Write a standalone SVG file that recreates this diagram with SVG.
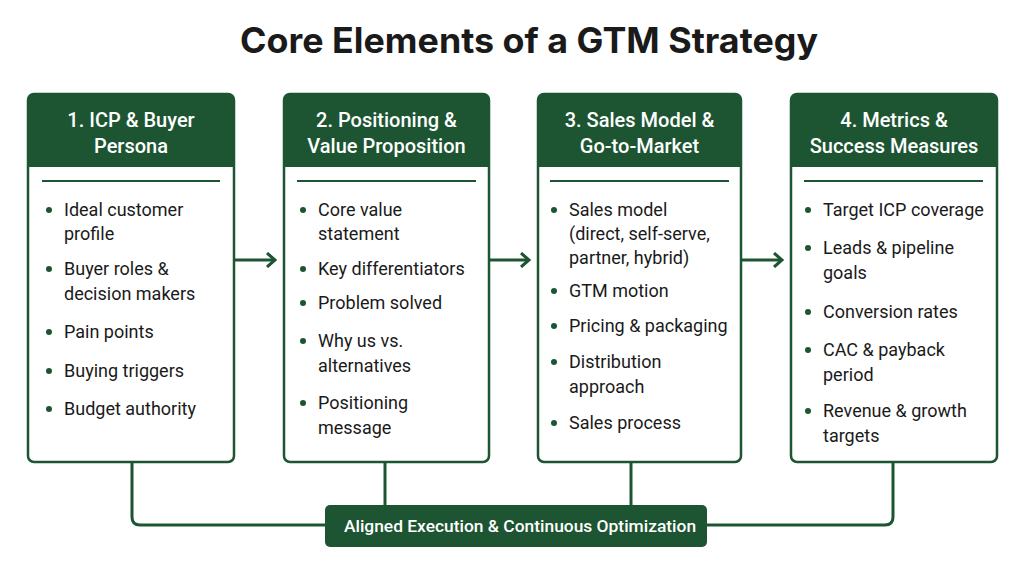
<svg xmlns="http://www.w3.org/2000/svg" width="1024" height="575" viewBox="0 0 1024 575">
<defs>
<style>
.title{font-family:Inter,"Liberation Sans",sans-serif;font-weight:700;font-size:35px;fill:#1a1a1a}
.box{fill:#fff;stroke:#1d5532;stroke-width:2.5}
.hdr{fill:#1d5532}
.ht{font-family:Roboto,"Liberation Sans",sans-serif;font-weight:500;font-size:20px;fill:#fff;text-anchor:middle}
.div{stroke:#1d5532;stroke-width:2}
.it{font-family:Roboto,"Liberation Sans",sans-serif;font-size:18px;fill:#1a1a1a}
.bul{fill:#1d5532}
.con{fill:none;stroke:#1d5532;stroke-width:3;stroke-linejoin:round}
.lbl{fill:#1d5532}
.lt{font-family:Roboto,"Liberation Sans",sans-serif;font-weight:500;font-size:17.4px;fill:#fff;text-anchor:middle}
</style>
<marker id="arr" viewBox="0 0 12 16" refX="10" refY="8" markerWidth="12" markerHeight="16" markerUnits="userSpaceOnUse" orient="auto">
<path d="M2,1 L10,8 L2,15" fill="none" stroke="#1d5532" stroke-width="3"/>
</marker>
</defs>
<rect width="1024" height="575" fill="#fff"/>
<text class="title" x="529" y="53" text-anchor="middle" textLength="578" lengthAdjust="spacingAndGlyphs">Core Elements of a GTM Strategy</text>

<g id="connectors">
<path class="con" d="M234,260 H275" marker-end="url(#arr)"/>
<path class="con" d="M489,260 H529" marker-end="url(#arr)"/>
<path class="con" d="M741,260 H782" marker-end="url(#arr)"/>
<path class="con" d="M132,462 V517 Q132,525 140,525 H326"/>
<path class="con" d="M385,462 V506"/>
<path class="con" d="M631,462 V506"/>
<path class="con" d="M706,525 H885 Q893,525 893,517 V462"/>
</g>

<g id="node1">
<rect class="box" x="28" y="94" width="206" height="368" rx="6"/>
<path class="hdr" d="M28,167 V100 Q28,94 34,94 H228 Q234,94 234,100 V167 Z"/>
<text class="ht" x="131" y="127">1. ICP &amp; Buyer</text>
<text class="ht" x="131" y="153">Persona</text>
<line class="div" x1="42" y1="181" x2="220" y2="181"/>
<circle class="bul" cx="49" cy="210" r="3"/>
<text class="it" x="64" y="216">Ideal customer</text>
<text class="it" x="64" y="240">profile</text>
<circle class="bul" cx="49" cy="269" r="3"/>
<text class="it" x="64" y="275">Buyer roles &amp;</text>
<text class="it" x="64" y="300">decision makers</text>
<circle class="bul" cx="49" cy="332" r="3"/>
<text class="it" x="64" y="338">Pain points</text>
<circle class="bul" cx="49" cy="371" r="3"/>
<text class="it" x="64" y="377">Buying triggers</text>
<circle class="bul" cx="49" cy="409" r="3"/>
<text class="it" x="64" y="415">Budget authority</text>
</g>

<g id="node2">
<rect class="box" x="284" y="94" width="205" height="368" rx="6"/>
<path class="hdr" d="M284,167 V100 Q284,94 290,94 H483 Q489,94 489,100 V167 Z"/>
<text class="ht" x="386.5" y="127">2. Positioning &amp;</text>
<text class="ht" x="386.5" y="153">Value Proposition</text>
<line class="div" x1="297" y1="181" x2="476" y2="181"/>
<circle class="bul" cx="303" cy="210" r="3"/>
<text class="it" x="318" y="216">Core value</text>
<text class="it" x="318" y="240">statement</text>
<circle class="bul" cx="303" cy="269" r="3"/>
<text class="it" x="318" y="275">Key differentiators</text>
<circle class="bul" cx="303" cy="303" r="3"/>
<text class="it" x="318" y="309">Problem solved</text>
<circle class="bul" cx="303" cy="341" r="3"/>
<text class="it" x="318" y="347">Why us vs.</text>
<text class="it" x="318" y="372">alternatives</text>
<circle class="bul" cx="303" cy="403" r="3"/>
<text class="it" x="318" y="409">Positioning</text>
<text class="it" x="318" y="434">message</text>
</g>

<g id="node3">
<rect class="box" x="538" y="94" width="203" height="368" rx="6"/>
<path class="hdr" d="M538,167 V100 Q538,94 544,94 H735 Q741,94 741,100 V167 Z"/>
<text class="ht" x="639.5" y="127">3. Sales Model &amp;</text>
<text class="ht" x="639.5" y="153">Go-to-Market</text>
<line class="div" x1="550" y1="181" x2="729" y2="181"/>
<circle class="bul" cx="554" cy="210" r="3"/>
<text class="it" x="569" y="216">Sales model</text>
<text class="it" x="569" y="240">(direct, self-serve,</text>
<text class="it" x="569" y="264">partner, hybrid)</text>
<circle class="bul" cx="554" cy="291" r="3"/>
<text class="it" x="569" y="297">GTM motion</text>
<circle class="bul" cx="554" cy="326" r="3"/>
<text class="it" x="569" y="332">Pricing &amp; packaging</text>
<circle class="bul" cx="554" cy="362" r="3"/>
<text class="it" x="569" y="368">Distribution</text>
<text class="it" x="569" y="393">approach</text>
<circle class="bul" cx="554" cy="423" r="3"/>
<text class="it" x="569" y="429">Sales process</text>
</g>

<g id="node4">
<rect class="box" x="791" y="94" width="206" height="368" rx="6"/>
<path class="hdr" d="M791,167 V100 Q791,94 797,94 H991 Q997,94 997,100 V167 Z"/>
<text class="ht" x="894" y="127">4. Metrics &amp;</text>
<text class="ht" x="894" y="153">Success Measures</text>
<line class="div" x1="804" y1="181" x2="983" y2="181"/>
<circle class="bul" cx="808" cy="210" r="3"/>
<text class="it" x="823" y="216">Target ICP coverage</text>
<circle class="bul" cx="808" cy="248" r="3"/>
<text class="it" x="823" y="254">Leads &amp; pipeline</text>
<text class="it" x="823" y="279">goals</text>
<circle class="bul" cx="808" cy="312" r="3"/>
<text class="it" x="823" y="318">Conversion rates</text>
<circle class="bul" cx="808" cy="350" r="3"/>
<text class="it" x="823" y="356">CAC &amp; payback</text>
<text class="it" x="823" y="381">period</text>
<circle class="bul" cx="808" cy="411" r="3"/>
<text class="it" x="823" y="417">Revenue &amp; growth</text>
<text class="it" x="823" y="442">targets</text>
</g>

<g id="label">
<rect class="lbl" x="325" y="505" width="382" height="42" rx="5"/>
<text class="lt" x="520" y="532">Aligned Execution &amp; Continuous Optimization</text>
</g>
</svg>
